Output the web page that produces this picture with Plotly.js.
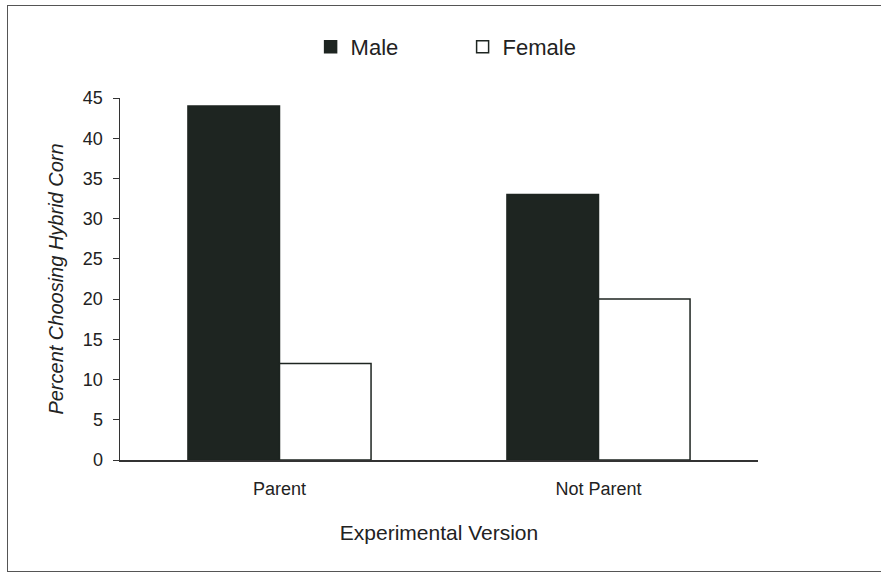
<!DOCTYPE html>
<html>
<head>
<meta charset="utf-8">
<script src="https://cdn.plot.ly/plotly-3.0.1.min.js"></script>
<style>
html,body{margin:0;padding:0;background:#fff;}
#frame{position:absolute;left:7px;top:5px;width:890px;height:567px;border:1.5px solid #555;box-sizing:border-box;}
#chart{position:absolute;left:0;top:0;width:881px;height:575px;}
</style>
</head>
<body>
<div id="frame"></div>
<div id="chart"></div>
<script>
var categories = ["Parent", "Not Parent"];
var maleValues = [44, 33];
var femaleValues = [12, 20];
var yTicks = [0, 5, 10, 15, 20, 25, 30, 35, 40, 45];

var ink = "#1e2521";
var font = "Liberation Sans, Arial, sans-serif";

var traces = [
  {type: "bar", name: "Male", x: categories, y: maleValues,
   marker: {color: ink, line: {color: ink, width: 1.5}}},
  {type: "bar", name: "Female", x: categories, y: femaleValues,
   marker: {color: "#ffffff", line: {color: ink, width: 1.5}}}
];

var layout = {
  width: 881, height: 575,
  paper_bgcolor: "rgba(0,0,0,0)", plot_bgcolor: "rgba(0,0,0,0)",
  margin: {l: 120, r: 123, t: 98, b: 115},
  barmode: "group", bargap: 0.426, bargroupgap: 0,
  font: {family: font, color: "#222", size: 18},
  showlegend: true,
  legend: {orientation: "h", x: 0.537, xanchor: "center", y: 1.141, yanchor: "middle",
           font: {size: 22, color: "#222"}, itemwidth: 30,
           entrywidth: 107, entrywidthmode: "pixels", traceorder: "normal"},
  xaxis: {showline: true, linecolor: "#333", linewidth: 1.5, ticks: "", showgrid: false,
          zeroline: false, tickfont: {size: 18, color: "#222"}, ticklabelstandoff: 12,
          title: {text: "Experimental Version", font: {size: 21, color: "#222"}, standoff: 27}},
  yaxis: {range: [0, 45], tickvals: yTicks, showline: true, linecolor: "#333", linewidth: 1.5,
          ticks: "outside", ticklen: 6, tickcolor: "#333", showgrid: false, zeroline: false,
          tickfont: {size: 18, color: "#222"}, ticklabelstandoff: 6,
          title: {text: "<i>Percent Choosing Hybrid Corn</i>", font: {size: 20, color: "#222"}, standoff: 14}}
};

Plotly.newPlot("chart", traces, layout, {displayModeBar: false, staticPlot: true});
</script>
</body>
</html>
